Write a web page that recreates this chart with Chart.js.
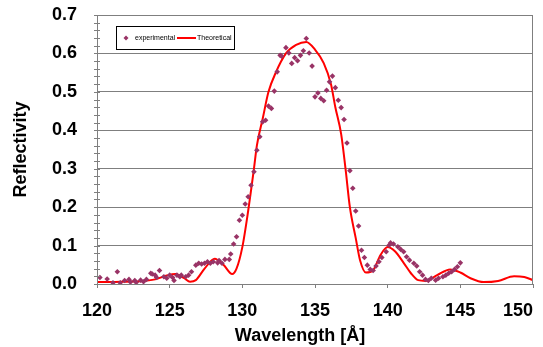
<!DOCTYPE html>
<html>
<head>
<meta charset="utf-8">
<script src="https://cdn.jsdelivr.net/npm/chart.js@4"></script>
<style>
  html, body { margin: 0; padding: 0; background: #fff; }
  #wrap { width: 543px; height: 347px; }
</style>
</head>
<body>
<div id="wrap"><canvas id="c"></canvas></div>
<script>
// measured points (wavelength in Å, reflectivity)
const expWl = [120.2, 120.7, 121.1, 121.4, 121.6, 121.9, 122.2, 122.3, 122.6, 122.7,
  123.0, 123.2, 123.4, 123.7, 123.8, 124.0, 124.1, 124.3, 124.6, 124.8,
  125.0, 125.2, 125.3, 125.5, 125.7, 125.8, 126.1, 126.3, 126.5, 126.8,
  127.0, 127.2, 127.4, 127.6, 127.8, 128.0, 128.3, 128.4, 128.6, 128.8,
  129.1, 129.2, 129.4, 129.6, 129.8, 130.0, 130.2, 130.4, 130.6, 130.8,
  131.0, 131.2, 131.4, 131.6, 131.8, 132.0, 132.2, 132.4, 132.6, 132.7,
  133.0, 133.2, 133.4, 133.6, 133.8, 134.0, 134.2, 134.4, 134.6, 134.8,
  135.0, 135.2, 135.4, 135.6, 135.8, 136.0, 136.2, 136.4, 136.6, 136.8,
  137.0, 137.2, 137.4, 137.6, 137.8, 138.0, 138.2, 138.4, 138.6, 138.8,
  139.0, 139.2, 139.4, 139.6, 139.9, 140.1, 140.2, 140.4, 140.7, 140.9,
  141.1, 141.3, 141.5, 141.8, 142.0, 142.2, 142.4, 142.6, 142.8, 143.0,
  143.3, 143.5, 143.8, 144.0, 144.2, 144.4, 144.6, 144.8, 145.0];
const expR = [0.017, 0.013, 0.003, 0.032, 0.003, 0.009, 0.012, 0.005, 0.009, 0.004,
  0.010, 0.006, 0.012, 0.028, 0.026, 0.023, 0.017, 0.035, 0.019, 0.015,
  0.023, 0.017, 0.009, 0.023, 0.019, 0.023, 0.019, 0.023, 0.032, 0.049,
  0.054, 0.052, 0.054, 0.058, 0.054, 0.058, 0.055, 0.061, 0.054, 0.064,
  0.064, 0.078, 0.104, 0.123, 0.166, 0.179, 0.208, 0.227, 0.257, 0.292,
  0.348, 0.383, 0.422, 0.426, 0.463, 0.457, 0.502, 0.552, 0.595, 0.593,
  0.615, 0.601, 0.574, 0.589, 0.581, 0.595, 0.607, 0.639, 0.601, 0.567,
  0.487, 0.497, 0.483, 0.477, 0.504, 0.526, 0.541, 0.511, 0.478, 0.459,
  0.428, 0.367, 0.295, 0.249, 0.190, 0.151, 0.088, 0.069, 0.049, 0.038,
  0.035, 0.047, 0.058, 0.069, 0.084, 0.101, 0.107, 0.104, 0.097, 0.090,
  0.084, 0.071, 0.062, 0.054, 0.047, 0.032, 0.023, 0.012, 0.009, 0.015,
  0.010, 0.015, 0.019, 0.023, 0.028, 0.032, 0.038, 0.045, 0.055];

// theoretical curve
const theoWl = [120, 121, 122, 123, 124, 124.8, 125.4, 126.0, 126.4, 126.8,
  127.4, 128.1, 128.7, 129.3, 129.6, 130.0, 130.4, 130.8, 131.0, 131.4,
  131.8, 132.3, 133.0, 133.7, 134.4, 135.0, 135.6, 136.1, 136.4, 136.8,
  137.1, 137.4, 137.8, 138.1, 138.5, 139.0, 139.5, 140.0, 140.5, 141.1,
  141.6, 142.1, 142.6, 143.4, 144.3, 145.0, 145.7, 146.6, 147.6, 148.7,
  149.4, 150.0];
const theoR = [0.005, 0.005, 0.006, 0.007, 0.012, 0.022, 0.026, 0.015, 0.006, 0.010,
  0.040, 0.066, 0.050, 0.026, 0.040, 0.096, 0.190, 0.300, 0.360, 0.430,
  0.500, 0.550, 0.600, 0.622, 0.630, 0.610, 0.575, 0.520, 0.460, 0.390,
  0.300, 0.200, 0.120, 0.062, 0.030, 0.036, 0.075, 0.096, 0.085, 0.055,
  0.028, 0.010, 0.008, 0.023, 0.038, 0.030, 0.015, 0.005, 0.008, 0.020,
  0.018, 0.010];

const xTicks = [120, 125, 130, 135, 140, 145, 150];
const yTicks = [0, 0.1, 0.2, 0.3, 0.4, 0.5, 0.6, 0.7];

const FONT = "'Liberation Sans', Arial, sans-serif";
const GRID = '#7f7f7f';

// plot frame, minor y ticks and the boxed legend
const excelBits = {
  id: 'excelBits',
  afterDraw(chart) {
    const { ctx, chartArea: a, scales } = chart;
    ctx.save();
    ctx.strokeStyle = GRID;
    ctx.lineWidth = 1;
    ctx.strokeRect(a.left + 0.5, a.top + 0.5, a.right - a.left - 1, a.bottom - a.top);

    // y minor ticks every 0.02
    const y = scales.y;
    ctx.beginPath();
    for (let v = 0; v <= 0.7001; v += 0.02) {
      const py = Math.round(y.getPixelForValue(v)) + 0.5;
      ctx.moveTo(a.left - 3, py);
      ctx.lineTo(a.left + 3, py);
    }
    ctx.stroke();

    // legend
    const lx = a.left + 19, ly = a.top + 11;
    ctx.fillStyle = '#fff';
    ctx.fillRect(lx, ly, 118, 23);
    ctx.strokeStyle = '#000';
    ctx.strokeRect(lx + 0.5, ly + 0.5, 118, 23);
    const cy = ly + 12;
    const ds = chart.data.datasets;
    ctx.fillStyle = ds[0].backgroundColor;
    ctx.beginPath();
    ctx.moveTo(lx + 10, cy - 2.5);
    ctx.lineTo(lx + 12.5, cy);
    ctx.lineTo(lx + 10, cy + 2.5);
    ctx.lineTo(lx + 7.5, cy);
    ctx.closePath();
    ctx.fill();
    ctx.font = '7px ' + FONT;
    ctx.textBaseline = 'middle';
    ctx.fillStyle = '#000';
    ctx.fillText(ds[0].label, lx + 19, cy);
    ctx.strokeStyle = ds[1].borderColor;
    ctx.lineWidth = 2;
    ctx.beginPath();
    ctx.moveTo(lx + 61, cy);
    ctx.lineTo(lx + 80, cy);
    ctx.stroke();
    ctx.fillText(ds[1].label, lx + 81, cy);
    ctx.restore();
  }
};

new Chart(document.getElementById('c'), {
  type: 'scatter',
  data: {
    datasets: [
      {
        label: 'experimental',
        data: expWl.map((w, i) => ({ x: w, y: expR[i] })),
        pointStyle: 'rectRot',
        pointRadius: 2.8,
        pointBorderWidth: 0,
        backgroundColor: '#993366',
        borderColor: '#993366',
        showLine: false,
        order: 1
      },
      {
        label: 'Theoretical',
        data: theoWl.map((w, i) => ({ x: w, y: theoR[i] })),
        showLine: true,
        borderColor: '#ff0000',
        borderWidth: 2,
        pointRadius: 0,
        cubicInterpolationMode: 'monotone',
        order: 2
      }
    ]
  },
  options: {
    responsive: true,
    maintainAspectRatio: false,
    animation: false,
    layout: { padding: { left: 0, right: 10, top: 15, bottom: 0 } },
    plugins: {
      legend: { display: false },
      tooltip: { enabled: false }
    },
    scales: {
      x: {
        type: 'linear',
        min: 120,
        max: 150,
        afterBuildTicks: (s) => { s.ticks = xTicks.map(v => ({ value: v })); },
        afterFit: (s) => { s.height = 63; s.paddingLeft = 0; s.paddingRight = 0; },
        ticks: {
          padding: 12,
          color: '#000',
          font: { family: FONT, size: 18, weight: 'bold' },
          // last label sits left of its tick so it stays inside the page
          callback: (v) => v === 150 ? '150      ' : String(v)
        },
        grid: { drawOnChartArea: false, drawTicks: true, tickLength: 4, color: GRID },
        border: { color: GRID },
        title: {
          display: true,
          text: 'Wavelength [Å]      ',
          color: '#000',
          font: { family: FONT, size: 18, weight: 'bold' },
          padding: { top: 0, bottom: 0 }
        }
      },
      y: {
        min: 0,
        max: 0.7,
        afterBuildTicks: (s) => { s.ticks = yTicks.map(v => ({ value: v })); },
        afterFit: (s) => { s.width = 97; s.paddingTop = 0; s.paddingBottom = 0; },
        ticks: {
          padding: 20,
          color: '#000',
          font: { family: FONT, size: 18, weight: 'bold' },
          callback: (v) => v.toFixed(1)
        },
        grid: { color: GRID, drawTicks: false },
        border: { color: GRID },
        title: {
          display: true,
          text: 'Reflectivity',
          color: '#000',
          font: { family: FONT, size: 18, weight: 'bold' },
          padding: { top: 10, bottom: 0 }
        }
      }
    }
  },
  plugins: [excelBits]
});
</script>
</body>
</html>
